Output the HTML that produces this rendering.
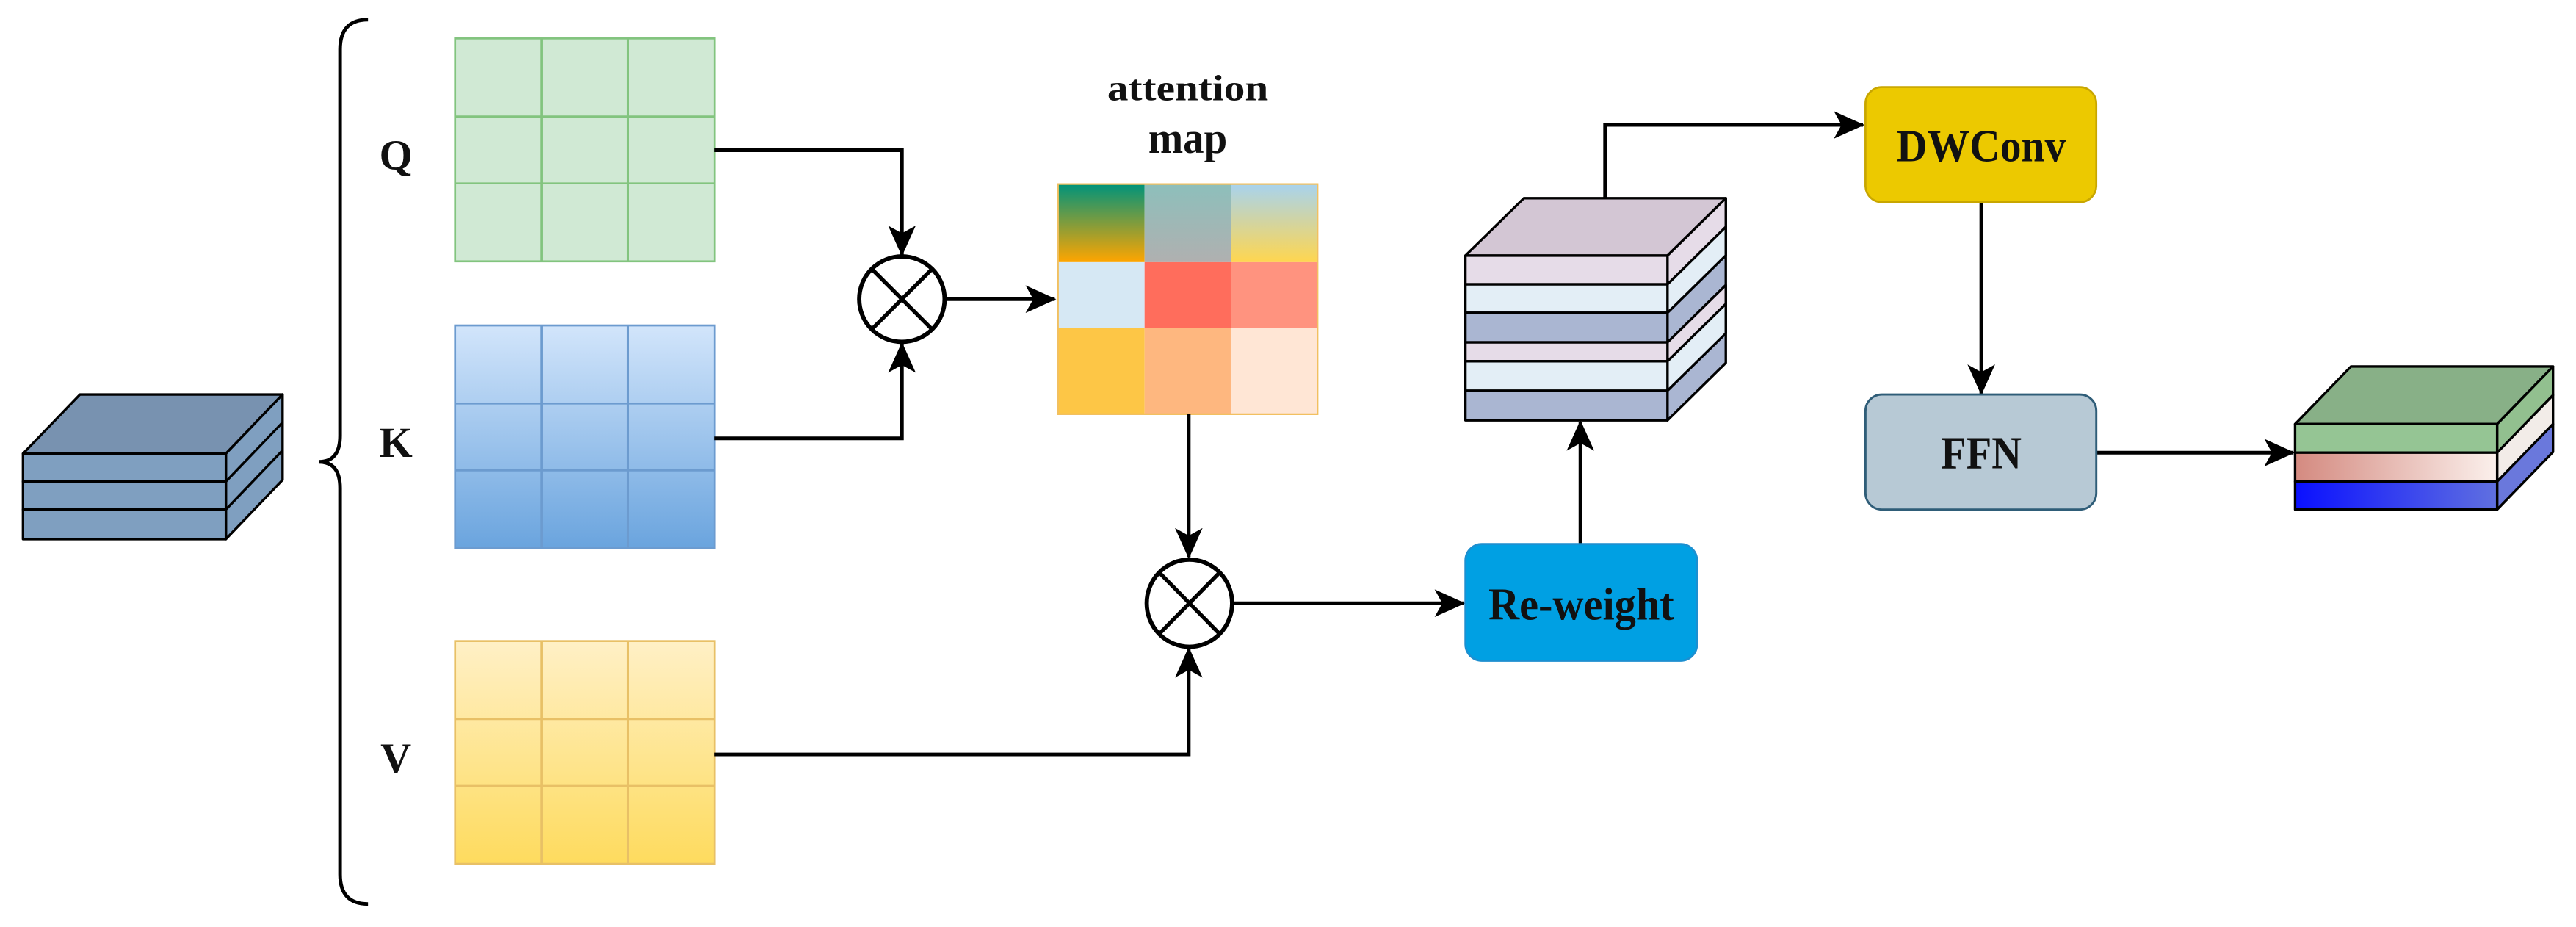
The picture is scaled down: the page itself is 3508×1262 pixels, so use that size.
<!DOCTYPE html>
<html><head><meta charset="utf-8"><style>html,body{margin:0;padding:0;background:#fff}svg{display:block}</style></head>
<body>
<svg width="3508" height="1262" viewBox="0 0 1568 564" preserveAspectRatio="none" xmlns="http://www.w3.org/2000/svg">
<defs>
<marker id="ar" viewBox="0 0 20 20" refX="19" refY="10" markerWidth="8.5" markerHeight="8.5" markerUnits="strokeWidth" orient="auto">
<path d="M0,1 L20,10 L0,19 L5,10 Z" fill="#000"/>
</marker>
<linearGradient id="gk" x1="0" y1="0" x2="0" y2="1"><stop offset="0" stop-color="#d2e5fb"/><stop offset="1" stop-color="#6aa4de"/></linearGradient>
<linearGradient id="gv" x1="0" y1="0" x2="0" y2="1"><stop offset="0" stop-color="#fff0c6"/><stop offset="1" stop-color="#fedb5e"/></linearGradient>
<linearGradient id="a1" x1="0" y1="0" x2="0" y2="1"><stop offset="0" stop-color="#00937a"/><stop offset="1" stop-color="#ffa500"/></linearGradient>
<linearGradient id="a2" x1="0" y1="0" x2="0" y2="1"><stop offset="0" stop-color="#8dbfbb"/><stop offset="1" stop-color="#b0b0b0"/></linearGradient>
<linearGradient id="a3" x1="0" y1="0" x2="0" y2="1"><stop offset="0" stop-color="#a8d3ee"/><stop offset="1" stop-color="#ffd64f"/></linearGradient>
<linearGradient id="o2" x1="0" y1="0" x2="1" y2="0"><stop offset="0" stop-color="#d48a80"/><stop offset="1" stop-color="#fbf0ec"/></linearGradient>
<linearGradient id="o3" x1="0" y1="0" x2="1" y2="0"><stop offset="0" stop-color="#0a10ff"/><stop offset="1" stop-color="#6070e0"/></linearGradient>
</defs>

<!-- left stack -->
<g stroke="#000" stroke-width="1.5" stroke-linejoin="round">
<polygon points="14,276 48.7,240 172,240 137.5,276" fill="#7892b0"/>
<polygon points="137.5,276 172,240 172,292 137.5,328" fill="#7f9fc0"/>
<rect x="14" y="276" width="123.5" height="17" fill="#7f9fc0"/>
<rect x="14" y="293" width="123.5" height="17" fill="#7f9fc0"/>
<rect x="14" y="310" width="123.5" height="18" fill="#7f9fc0"/>
<line x1="137.5" y1="293" x2="172" y2="257"/>
<line x1="137.5" y1="310" x2="172" y2="274"/>
</g>

<!-- brace -->
<path d="M224,12 Q207,12 207,30 L207,265 Q207,281 194,281 Q207,281 207,297 L207,532 Q207,550 224,550" fill="none" stroke="#000" stroke-width="2.2"/>

<g style="font-family:'Liberation Serif',serif;font-weight:bold" fill="#111">
<text x="241" y="103" font-size="26" text-anchor="middle">Q</text>
<text x="241" y="278" font-size="26" text-anchor="middle">K</text>
<text x="241" y="470" font-size="26" text-anchor="middle">V</text>
<text x="723" y="61" font-size="22" text-anchor="middle" textLength="98" lengthAdjust="spacingAndGlyphs">attention</text>
<text x="723" y="93" font-size="27" text-anchor="middle" textLength="48" lengthAdjust="spacingAndGlyphs">map</text>
</g>

<!-- Q grid -->
<g stroke="#82c47e" stroke-width="1.2">
<rect x="277" y="23.4" width="158" height="135.6" fill="#d0e9d4"/>
<line x1="329.7" y1="23.4" x2="329.7" y2="159"/><line x1="382.3" y1="23.4" x2="382.3" y2="159"/>
<line x1="277" y1="70.9" x2="435" y2="70.9"/><line x1="277" y1="111.6" x2="435" y2="111.6"/>
</g>
<!-- K grid -->
<g stroke="#6c9bcf" stroke-width="1.2">
<rect x="277" y="198" width="158" height="135.6" fill="url(#gk)"/>
<line x1="329.7" y1="198" x2="329.7" y2="333.6"/><line x1="382.3" y1="198" x2="382.3" y2="333.6"/>
<line x1="277" y1="245.5" x2="435" y2="245.5"/><line x1="277" y1="286.2" x2="435" y2="286.2"/>
</g>
<!-- V grid -->
<g stroke="#e8c066" stroke-width="1.2">
<rect x="277" y="390" width="158" height="135.6" fill="url(#gv)"/>
<line x1="329.7" y1="390" x2="329.7" y2="525.6"/><line x1="382.3" y1="390" x2="382.3" y2="525.6"/>
<line x1="277" y1="437.5" x2="435" y2="437.5"/><line x1="277" y1="478.2" x2="435" y2="478.2"/>
</g>

<!-- attention map -->
<g>
<rect x="644" y="112" width="52.7" height="47.5" fill="url(#a1)"/>
<rect x="696.7" y="112" width="52.7" height="47.5" fill="url(#a2)"/>
<rect x="749.4" y="112" width="52.6" height="47.5" fill="url(#a3)"/>
<rect x="644" y="159.5" width="52.7" height="40" fill="#d6e8f4"/>
<rect x="696.7" y="159.5" width="52.7" height="40" fill="#ff6d5c"/>
<rect x="749.4" y="159.5" width="52.6" height="40" fill="#ff937f"/>
<rect x="644" y="199.5" width="52.7" height="52.5" fill="#fdc646"/>
<rect x="696.7" y="199.5" width="52.7" height="52.5" fill="#feb77f"/>
<rect x="749.4" y="199.5" width="52.6" height="52.5" fill="#ffe6d5"/>
<rect x="644" y="112" width="158" height="140" fill="none" stroke="#f2c060" stroke-width="1"/>
</g>

<!-- connectors -->
<g stroke="#000" stroke-width="2.2" fill="none">
<polyline points="435,91.4 549,91.4 549,155" marker-end="url(#ar)"/>
<polyline points="435,266.7 549,266.7 549,209" marker-end="url(#ar)"/>
<line x1="576" y1="182" x2="642" y2="182" marker-end="url(#ar)"/>
<line x1="723.6" y1="252" x2="723.6" y2="339" marker-end="url(#ar)"/>
<polyline points="435,459 723.6,459 723.6,394.5" marker-end="url(#ar)"/>
<line x1="751" y1="367" x2="891" y2="367" marker-end="url(#ar)"/>
<line x1="962" y1="331" x2="962" y2="256.5" marker-end="url(#ar)"/>
<polyline points="977,120.6 977,76 1134,76" marker-end="url(#ar)"/>
<line x1="1206" y1="123" x2="1206" y2="239.5" marker-end="url(#ar)"/>
<line x1="1276" y1="275.4" x2="1396" y2="275.4" marker-end="url(#ar)"/>
</g>

<!-- circles -->
<g stroke="#000" stroke-width="2.6" fill="#fff">
<ellipse cx="549" cy="182" rx="26" ry="26"/>
<ellipse cx="724" cy="367" rx="26" ry="26.5"/>
</g>
<g stroke="#000" stroke-width="2.4">
<line x1="530.6" y1="163.6" x2="567.4" y2="200.4"/><line x1="567.4" y1="163.6" x2="530.6" y2="200.4"/>
<line x1="705.6" y1="348.3" x2="742.4" y2="385.7"/><line x1="742.4" y1="348.3" x2="705.6" y2="385.7"/>
</g>

<!-- middle stack -->
<g stroke="#000" stroke-width="1.5" stroke-linejoin="round">
<polygon points="892,155.5 927.6,120.6 1050.5,120.6 1015,155.5" fill="#d3c6d4"/>
<polygon points="1015,155.5 1050.5,120.6 1050.5,220.8 1015,255.7" fill="#aab6d2"/>
<polygon points="1015,155.5 1050.5,120.6 1050.5,138 1015,173" fill="#e6dce8"/>
<polygon points="1015,173 1050.5,138 1050.5,155.4 1015,190.3" fill="#e3eef6"/>
<polygon points="1015,208.3 1050.5,173.4 1050.5,184.9 1015,219.8" fill="#e6dce8"/>
<polygon points="1015,219.8 1050.5,184.9 1050.5,202.8 1015,237.7" fill="#e3eef6"/>
<rect x="892" y="155.5" width="123" height="17.5" fill="#e6dce8"/>
<rect x="892" y="173" width="123" height="17.3" fill="#e3eef6"/>
<rect x="892" y="190.3" width="123" height="18" fill="#aab6d2"/>
<rect x="892" y="208.3" width="123" height="11.5" fill="#e6dce8"/>
<rect x="892" y="219.8" width="123" height="17.9" fill="#e3eef6"/>
<rect x="892" y="237.7" width="123" height="18" fill="#aab6d2"/>
</g>

<!-- output stack -->
<g stroke="#000" stroke-width="1.5" stroke-linejoin="round">
<polygon points="1397,258 1431,223 1554,223 1520,258" fill="#88b087"/>
<polygon points="1520,258 1554,223 1554,240.4 1520,275.4" fill="#92c08f"/>
<polygon points="1520,275.4 1554,240.4 1554,258 1520,293" fill="#f2ece8"/>
<polygon points="1520,293 1554,258 1554,275 1520,310" fill="#6a78dc"/>
<rect x="1397" y="258" width="123" height="17.4" fill="#95c594"/>
<rect x="1397" y="275.4" width="123" height="17.6" fill="url(#o2)"/>
<rect x="1397" y="293" width="123" height="17" fill="url(#o3)"/>
</g>

<!-- boxes -->
<rect x="892" y="331" width="141" height="71" rx="10" fill="#00a0e3" stroke="#1c8fd0" stroke-width="1.2"/>
<rect x="1135.5" y="53" width="140.5" height="70" rx="10" fill="#ecc900" stroke="#c8a600" stroke-width="1.2"/>
<rect x="1135.5" y="240" width="140.5" height="70" rx="10" fill="#b7c9d5" stroke="#2f5d78" stroke-width="1.3"/>
<g style="font-family:'Liberation Serif',serif;font-weight:bold" fill="#111" text-anchor="middle">
<text x="962.5" y="377" font-size="28" textLength="113" lengthAdjust="spacingAndGlyphs">Re-weight</text>
<text x="1206" y="98" font-size="28" textLength="103" lengthAdjust="spacingAndGlyphs">DWConv</text>
<text x="1206" y="285" font-size="28" textLength="49" lengthAdjust="spacingAndGlyphs">FFN</text>
</g>
</svg>
</body></html>
